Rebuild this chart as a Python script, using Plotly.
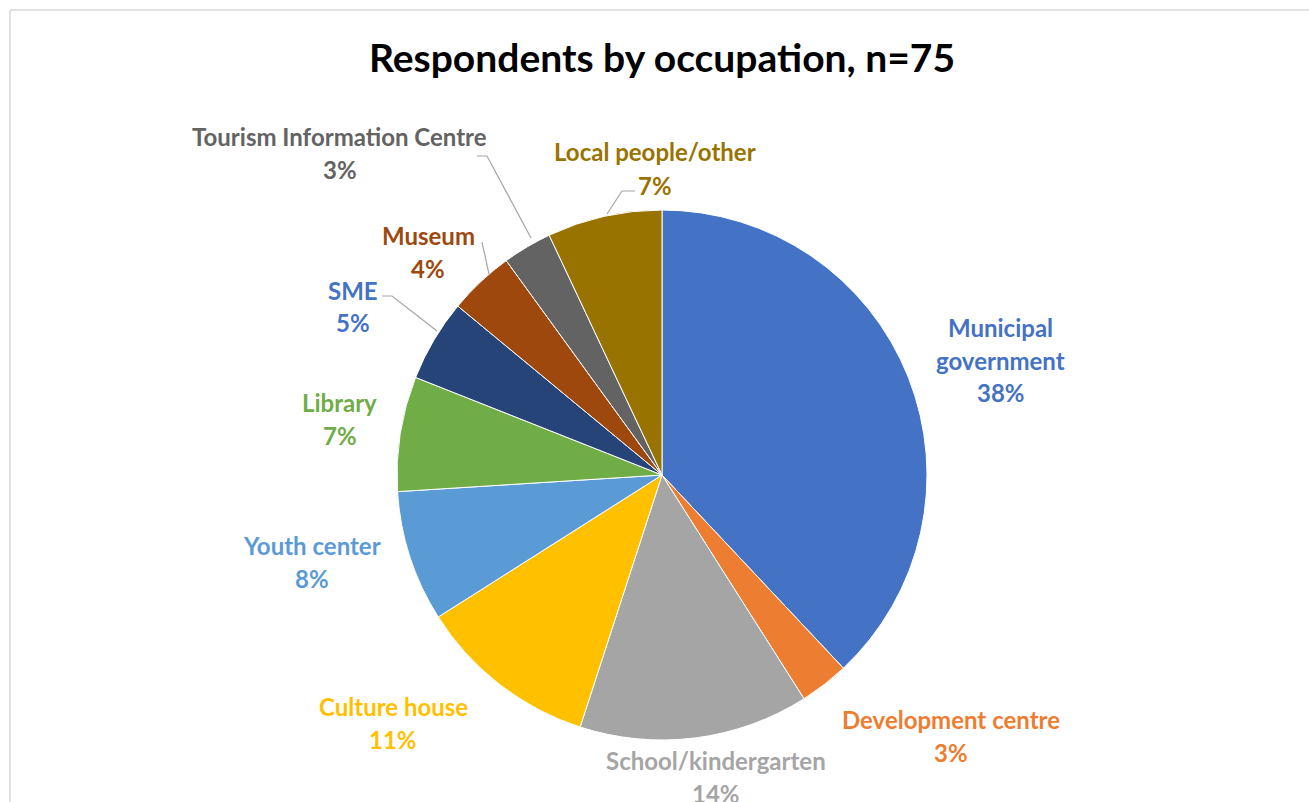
import plotly.graph_objects as go

W, H = 1309, 802

categories = ["Municipal government", "Development centre", "School/kindergarten",
              "Culture house", "Youth center", "Library", "SME", "Museum",
              "Tourism Information Centre", "Local people/other"]
percent_values = [38, 3, 14, 11, 8, 7, 5, 4, 3, 7]
slice_colors = ["#4472C4", "#ED7D31", "#A5A5A5", "#FFC000", "#5B9BD5",
                "#70AD47", "#264478", "#9E480E", "#636363", "#997300"]
label_colors = ["#4472C4", "#ED7D31", "#A5A5A5", "#FFC000", "#5B9BD5",
                "#70AD47", "#4472C4", "#9E480E", "#636363", "#997300"]
label_lines = [["Municipal", "government"], ["Development centre"], ["School/kindergarten"],
               ["Culture house"], ["Youth center"], ["Library"], ["SME"], ["Museum"],
               ["Tourism Information Centre"], ["Local people/other"]]

# y of first text line and x centre (pixels) - layout only
label_pos = [(1001, 327), (951, 719), (716, 760), (393, 706), (312, 545),
             (340, 402), (353, 290), (428, 235), (340, 136), (655, 152)]
LINE_GAP = 33

FONT = "Lato"


def px(x, y):
    return x / W, 1 - y / H


fig = go.Figure()
cx0, cy0, r = 662, 475, 265
x0, y0 = px(cx0 - r, cy0 + r)
x1, y1 = px(cx0 + r, cy0 - r)
fig.add_trace(go.Pie(
    labels=categories, values=percent_values, sort=False, direction="clockwise",
    rotation=0, marker=dict(colors=slice_colors, line=dict(color="white", width=1)),
    textinfo="none", hoverinfo="label+percent", showlegend=False,
    domain=dict(x=[x0, x1], y=[y0, y1]),
))

for lines, v, col, (lx, ly) in zip(label_lines, percent_values, label_colors, label_pos):
    for i, t in enumerate(lines + [f"{v}%"]):
        ax, ay = px(lx, ly + i * LINE_GAP)
        fig.add_annotation(x=ax, y=ay, xref="paper", yref="paper", text=f"<b>{t}</b>",
                           showarrow=False, xanchor="center", yanchor="middle",
                           font=dict(family=FONT, size=24, color=col))

leaders = [
    [(477, 156), (487, 156), (531, 238)],
    [(482, 242), (489, 274)],
    [(382, 296), (392, 296), (437, 331)],
    [(635, 191), (622, 191), (607, 214)],
]
for pts in leaders:
    path = "M " + " L ".join(f"{px(x, y)[0]:.5f},{px(x, y)[1]:.5f}" for x, y in pts)
    fig.add_shape(type="path", path=path, xref="paper", yref="paper",
                  line=dict(color="#A6A6A6", width=1.2))

# chart-area border (left and top visible)
for (ax_, ay_), (bx, by) in [((10, 10), (1309, 10)), ((10, 10), (10, 802))]:
    p0, p1 = px(ax_, ay_), px(bx, by)
    fig.add_shape(type="line", x0=p0[0], y0=p0[1], x1=p1[0], y1=p1[1],
                  xref="paper", yref="paper", line=dict(color="#D9D9D9", width=1.5))

fig.update_layout(
    width=W, height=H, margin=dict(l=0, r=0, t=0, b=0),
    paper_bgcolor="white", plot_bgcolor="white",
    title=dict(text="<b>Respondents by occupation, n=75</b>", x=662 / W, xanchor="center",
               y=1 - 58 / H, yanchor="middle",
               font=dict(family=FONT, size=39, color="black")),
    font=dict(family=FONT),
)

fig.write_html("out.html")
